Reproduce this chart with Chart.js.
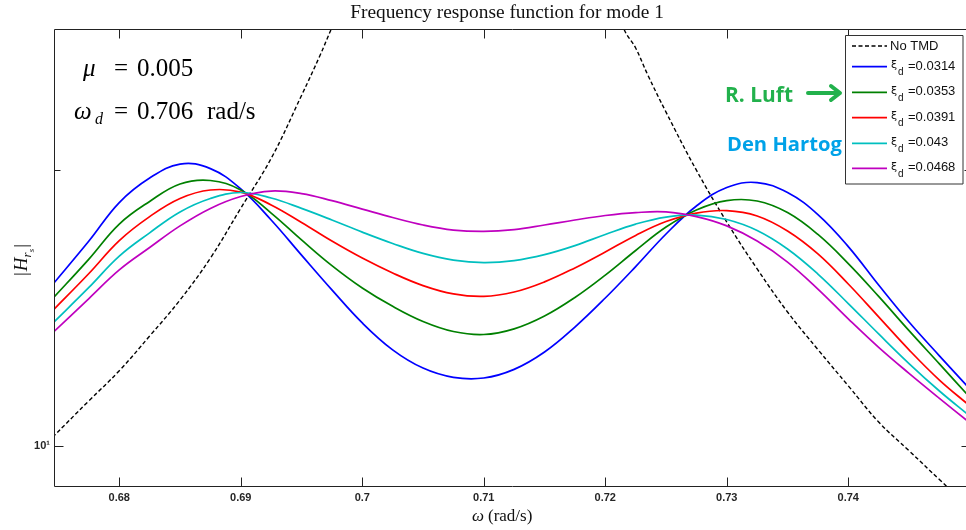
<!DOCTYPE html>
<html><head><meta charset="utf-8">
<script src="https://cdn.jsdelivr.net/npm/chart.js"></script>
<style>html,body{margin:0;padding:0;overflow:hidden;background:#fff;width:966px;height:530px}canvas{display:block}</style>
</head><body>
<canvas id="c" width="971" height="530"></canvas>
<script>
// ---- data ----
const freq = [0.6745,0.6775,0.68,0.6825,0.685,0.6875,0.69,0.6925,0.695,0.6975,0.7,0.7025,0.705,0.7075,0.71,0.7125,0.715,0.7175,0.72,0.7225,0.725,0.7275,0.73,0.7325,0.735,0.7375,0.74,0.7425,0.745,0.7475,0.75];
const xi0314 = [14.99,16.73,18.43,19.60,20.30,20.07,19.07,17.64,16.15,14.80,13.62,12.73,12.16,11.88,11.86,12.12,12.66,13.48,14.50,15.69,17.03,18.27,19.14,19.38,18.90,17.88,16.50,14.98,13.65,12.54,11.54];
const xi0353 = [14.47,15.99,17.46,18.48,19.31,19.48,19.02,17.95,16.78,15.73,14.87,14.20,13.67,13.33,13.23,13.42,13.86,14.52,15.36,16.34,17.33,18.09,18.52,18.50,17.97,17.01,15.81,14.56,13.36,12.29,11.30];
const xi0391 = [14.04,15.42,16.75,17.79,18.62,19.02,18.92,18.32,17.53,16.73,16.03,15.44,14.96,14.65,14.56,14.72,15.10,15.64,16.28,16.97,17.57,17.95,18.06,17.82,17.16,16.20,15.02,13.83,12.73,11.80,11.06];
const xi0430 = [13.60,14.89,16.11,17.08,18.00,18.62,18.90,18.64,18.16,17.64,17.11,16.63,16.22,15.95,15.85,15.93,16.17,16.54,17.01,17.46,17.77,17.86,17.66,17.18,16.40,15.40,14.30,13.25,12.30,11.48,10.78];
const xi0468 = [13.28,14.48,15.56,16.46,17.38,18.16,18.71,18.97,18.85,18.52,18.13,17.75,17.42,17.20,17.14,17.22,17.42,17.64,17.84,17.97,18.00,17.79,17.38,16.73,15.87,14.83,13.76,12.81,12.00,11.27,10.60];
const noTmdFreq = [0.6745,0.6775,0.68,0.6825,0.685,0.6875,0.69,0.6925,0.695,0.6965,0.6975,0.6985,0.70,0.7025,0.705,0.7075,0.7095,0.7115,0.714,0.717,0.72,0.7215,0.7225,0.7235,0.725,0.7275,0.73,0.7325,0.735,0.7375,0.74,0.7425,0.745,0.7475,0.75];
const noTmdH = [10.22,11.20,12.08,13.18,14.43,16.03,18.17,20.59,24.12,26.63,28.6,30.6,34,45,70,130,200,150,80,47,34.5,28.6,27.17,25.39,23.13,19.99,17.55,15.60,14.00,12.74,11.63,10.62,9.88,9.19,8.56];
const xTickValues = [0.68,0.69,0.7,0.71,0.72,0.73,0.74];
const xTickLabels = ['0.68','0.69','0.7','0.71','0.72','0.73','0.74'];
const yMajorTicks = [10];
const yMinorTicks = [20];
const legendLabels = ['No TMD','=0.0314','=0.0353','=0.0391','=0.043','=0.0468'];
const seriesColors = ['#000000','#0000ff','#008000','#ff0000','#00bfbf','#bf00bf'];

Chart.defaults.font.family = "'Liberation Sans', Arial, sans-serif";

const pts = (xs, ys) => xs.map((x, i) => ({x: x, y: ys[i]}));
const series = [pts(noTmdFreq, noTmdH), pts(freq, xi0314), pts(freq, xi0353), pts(freq, xi0391), pts(freq, xi0430), pts(freq, xi0468)];
const datasets = series.map((d, i) => ({
  label: legendLabels[i], data: d, borderColor: seriesColors[i],
  borderWidth: i === 0 ? 1.4 : 1.7, borderDash: i === 0 ? [4, 2.5] : [],
  pointRadius: 0, fill: false, tension: 0.4,
  capBezierPoints: false, clip: 0, order: 5 - i
}));

function runs(ctx, list, x, y) {
  let cx = x;
  list.forEach(r => { ctx.font = r.f; ctx.fillText(r.t, cx, y + (r.dy || 0)); cx += ctx.measureText(r.t).width + (r.gap || 0); });
  return cx - x;
}
function fitPx(ctx, text, tpl, w) { ctx.font = tpl.replace('{s}', '100px'); return 100 * w / ctx.measureText(text).width; }

const overlay = {
  id: 'overlay',
  afterDraw(chart) {
    const ctx = chart.ctx, ca = chart.chartArea, xs = chart.scales.x, ys = chart.scales.y;
    ctx.save();
    ctx.strokeStyle = '#222'; ctx.lineWidth = 1;
    const L = ca.left - 0.5, R = ca.right - 0.5, T = ca.top + 0.5, B = ca.bottom - 0.5;
    ctx.beginPath();
    ctx.moveTo(L, T); ctx.lineTo(R, T); ctx.lineTo(R, B); ctx.lineTo(L, B); ctx.closePath(); ctx.stroke();
    ctx.beginPath();
    xTickValues.forEach(v => { const px = Math.round(xs.getPixelForValue(v)) + 0.5; ctx.moveTo(px, B); ctx.lineTo(px, B - 9); ctx.moveTo(px, T); ctx.lineTo(px, T + 9); });
    yMajorTicks.forEach(v => { const py = Math.round(ys.getPixelForValue(v)) + 0.5; ctx.moveTo(L, py); ctx.lineTo(L + 9, py); ctx.moveTo(R, py); ctx.lineTo(R - 9, py); });
    yMinorTicks.forEach(v => { const py = Math.round(ys.getPixelForValue(v)) + 0.5; ctx.moveTo(L, py); ctx.lineTo(L + 6, py); ctx.moveTo(R, py); ctx.lineTo(R - 6, py); });
    ctx.stroke();

    ctx.fillStyle = '#111'; ctx.textBaseline = 'alphabetic'; ctx.textAlign = 'left';
    const tt = 'Frequency response function for mode 1';
    const ts = fitPx(ctx, tt, "{s} 'Liberation Serif'", 314);
    ctx.font = ts.toFixed(2) + "px 'Liberation Serif'"; ctx.textAlign = 'center';
    ctx.fillText(tt, 507, 18);
    ctx.textAlign = 'left';
    runs(ctx, [{t: 'ω', f: "italic 17px 'Liberation Serif'", gap: 4}, {t: '(rad/s)', f: "17px 'Liberation Serif'"}], 472, 521);
    ctx.save(); ctx.translate(27, 260); ctx.rotate(-Math.PI / 2);
    const yl = [{t: '|', f: "19px 'Liberation Serif'", gap: 1}, {t: 'H', f: "italic 19px 'Liberation Serif'"},
      {t: 'r', f: "italic 13px 'Liberation Serif'", dy: 4}, {t: 's', f: "italic 9px 'Liberation Serif'", dy: 7, gap: 1}, {t: '|', f: "19px 'Liberation Serif'"}];
    let tw = 0; yl.forEach(r => { ctx.font = r.f; tw += ctx.measureText(r.t).width + (r.gap || 0); });
    runs(ctx, yl, -tw / 2, 0);
    ctx.restore();
    ctx.fillStyle = '#000';
    ctx.font = "italic 25px 'Liberation Serif'"; ctx.fillText('μ', 83, 76);
    ctx.font = "25px 'Liberation Serif'"; ctx.fillText('=', 114, 76); ctx.fillText('0.005', 137, 76);
    ctx.font = "italic 25px 'Liberation Serif'"; ctx.fillText('ω', 74, 119);
    ctx.font = "italic 16px 'Liberation Serif'"; ctx.fillText('d', 95, 123.5);
    ctx.font = "25px 'Liberation Serif'"; ctx.fillText('=', 114, 119); ctx.fillText('0.706', 137, 119); ctx.fillText('rad/s', 207, 119);
    const gs = fitPx(ctx, 'R. Luft', "bold {s} 'Open Sans'", 68);
    ctx.font = 'bold ' + gs.toFixed(2) + "px 'Open Sans'"; ctx.fillStyle = '#22b14c'; ctx.fillText('R. Luft', 725, 101.7);
    ctx.strokeStyle = '#22b14c'; ctx.lineWidth = 4; ctx.lineCap = 'round'; ctx.lineJoin = 'round';
    ctx.beginPath(); ctx.moveTo(808, 93); ctx.lineTo(838, 93); ctx.moveTo(831, 86); ctx.lineTo(840, 93); ctx.lineTo(831, 100); ctx.stroke();
    const bs = fitPx(ctx, 'Den Hartog', "bold {s} 'Open Sans'", 115);
    ctx.font = 'bold ' + bs.toFixed(2) + "px 'Open Sans'"; ctx.fillStyle = '#00a2e8'; ctx.fillText('Den Hartog', 727, 150.7);
    ctx.lineCap = 'butt';
    ctx.fillStyle = '#fff'; ctx.fillRect(846, 36, 117, 148);
    ctx.strokeStyle = '#333'; ctx.lineWidth = 1; ctx.strokeRect(845.5, 35.5, 117.5, 148.5);
    const rows = [46, 66.7, 92.3, 117.7, 143.3, 168.3];
    rows.forEach((ry, i) => {
      ctx.strokeStyle = seriesColors[i]; ctx.lineWidth = i === 0 ? 1.4 : 1.7;
      ctx.setLineDash(i === 0 ? [4, 2.5] : []);
      ctx.beginPath(); ctx.moveTo(852, ry); ctx.lineTo(887, ry); ctx.stroke();
      ctx.setLineDash([]);
      ctx.fillStyle = '#111'; ctx.textBaseline = 'middle';
      if (i === 0) { ctx.font = "13px 'Liberation Sans'"; ctx.fillText(legendLabels[0], 890, ry + 0.5); }
      else {
        ctx.font = "11px 'DejaVu Sans'"; ctx.fillText('ξ', 891, ry - 1.5);
        ctx.font = "10px 'Liberation Sans'"; ctx.fillText('d', 898, ry + 6);
        ctx.font = "13px 'Liberation Sans'"; ctx.fillText(legendLabels[i], 908, ry - 0.5);
      }
    });
    ctx.restore();
  }
};

new Chart(document.getElementById('c'), {
  type: 'line',
  data: {datasets: datasets},
  options: {
    responsive: false, animation: false, devicePixelRatio: 1,
    layout: {padding: {top: 29, left: 0, right: 0, bottom: 0}},
    plugins: {legend: {display: false}, title: {display: false}, tooltip: {enabled: false}},
    scales: {
      x: {type: 'linear', min: 0.67471, max: 0.7501,
        grid: {display: false, drawTicks: false}, border: {display: false},
        afterBuildTicks: s => { s.ticks = xTickValues.map(v => ({value: v})); },
        ticks: {callback: (v) => xTickLabels[xTickValues.indexOf(v)], padding: 4, color: '#262626', font: {size: 11, weight: 'bold'}, maxRotation: 0, autoSkip: false},
        afterFit: s => { s.height = 43; }},
      y: {type: 'logarithmic', min: 9.02, max: 28.5,
        grid: {display: false, drawTicks: false}, border: {display: false},
        afterBuildTicks: s => { s.ticks = yMajorTicks.concat(yMinorTicks).map(v => ({value: v})); },
        ticks: {callback: (v) => (yMajorTicks.indexOf(v) >= 0 ? '10¹' : ''), padding: 5, color: '#262626', font: {size: 11, weight: 'bold'}, autoSkip: false},
        afterFit: s => { s.width = 55; }}
    }
  },
  plugins: [overlay]
});
</script>
</body></html>
